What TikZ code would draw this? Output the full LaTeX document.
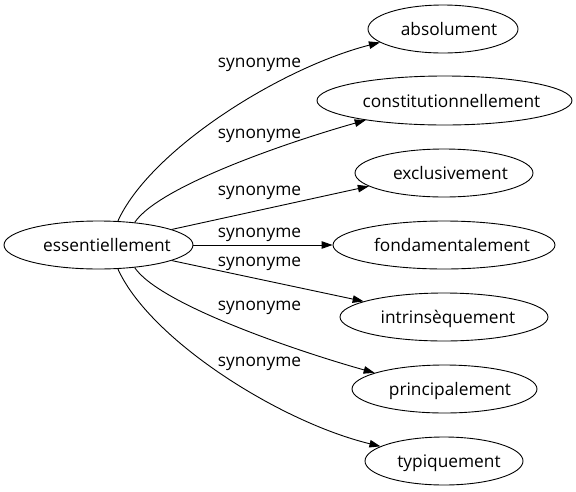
\documentclass[tikz,border=0pt]{standalone}
\usepackage{fontspec}
\setmainfont{Open Sans}
\usetikzlibrary{shapes.geometric,arrows.meta}
\newcommand{\wt}[2]{\makebox[0pt]{\hspace*{#1pt}#2}}
\begin{document}
\begin{tikzpicture}[x=1pt,y=-1pt,
  word/.style={draw,ellipse,inner sep=0pt,line width=0.9pt,text height=13.2pt,text depth=0pt,
    font=\fontsize{17.3}{20}\selectfont},
  rel/.style={draw,line width=0.9pt,-{Triangle[length=11pt,width=7.5pt]}},
  lbl/.style={font=\fontsize{17.3}{20}\selectfont,inner sep=0pt}]
\useasboundingbox (0,0) rectangle (576,491);
\node[word,minimum width=189pt,minimum height=48pt] (e) at (98.5,245) {\wt{17}{essentiellement}};
\node[word,minimum width=150pt,minimum height=48pt] (abs) at (443,29) {\wt{12}{absolument}};
\node[word,minimum width=255pt,minimum height=49pt] (con) at (444.5,100.5) {\wt{14}{constitutionnellement}};
\node[word,minimum width=178pt,minimum height=48pt] (exc) at (444,173) {\wt{13}{exclusivement}};
\node[word,minimum width=222pt,minimum height=48pt] (fon) at (444,245) {\wt{16}{fondamentalement}};
\node[word,minimum width=208pt,minimum height=48pt] (int) at (444,317) {\wt{8}{intrinsèquement}};
\node[word,minimum width=185pt,minimum height=48pt] (pri) at (444.5,389) {\wt{11}{principalement}};
\node[word,minimum width=158pt,minimum height=48pt] (typ) at (444,461) {\wt{10}{typiquement}};

\draw[rel] (e.51.2) .. controls (150,150) and (280,68) .. (abs.192.5);
\draw[rel] (e.32.5) .. controls (160,185) and (295,140) .. (con.194.1);
\draw[rel] (e.12.6) -- (exc.190.7);
\draw[rel] (e.east) -- (fon.west);
\draw[rel] (e.-12.6) -- (int.169.8);
\draw[rel] (e.-32.5) .. controls (160,305) and (300,352) .. (pri.167.2);
\draw[rel] (e.-51.2) .. controls (150,340) and (280,422) .. (typ.167.7);

\node[lbl] (l1) at (259.5,65) {synonyme};
\node[lbl] (l2) at (259.5,135.5) {synonyme};
\node[lbl] (l3) at (259.5,193) {synonyme};
\node[lbl] (l4) at (259.5,235) {synonyme};
\node[lbl] (l5) at (259.5,263.5) {synonyme};
\node[lbl] (l6) at (259.5,307.5) {synonyme};
\node[lbl] (l7) at (259.5,364) {synonyme};
\end{tikzpicture}
\end{document}
